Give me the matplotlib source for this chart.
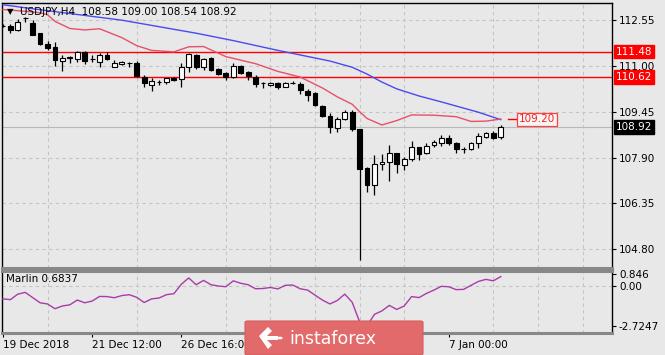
import matplotlib
matplotlib.use('Agg')
import matplotlib.pyplot as plt
import numpy as np
from matplotlib.patches import FancyBboxPatch, Polygon, Circle
from matplotlib.transforms import blended_transform_factory

title_text = "USDJPY,H4  108.58 109.00 108.54 108.92"

opens = [112.33, 112.35, 112.21, 112.60, 112.45, 112.10, 111.73, 111.64, 111.16, 111.26,
         111.23, 111.47, 111.23, 111.14, 111.37, 110.96, 111.06, 111.09, 111.10, 110.62,
         110.35, 110.45, 110.46, 110.59, 110.55, 110.96, 111.37, 110.96, 111.27, 110.89,
         110.76, 110.62, 110.99, 110.79, 110.62, 110.42, 110.35, 110.42, 110.29, 110.41,
         110.39, 110.15, 110.08, 109.64, 109.30, 108.90, 109.20, 109.44, 108.86, 107.55,
         106.97, 107.68, 107.75, 108.05, 107.65, 107.85, 108.26, 108.05, 108.33, 108.39,
         108.56, 108.39, 108.18, 108.19, 108.39, 108.59, 108.73, 108.58]
highs = [112.40, 112.41, 112.58, 112.65, 112.55, 112.12, 111.84, 111.81, 111.37, 111.33,
         111.50, 111.50, 111.36, 111.43, 111.47, 111.20, 111.15, 111.13, 111.16, 110.69,
         110.59, 110.52, 110.60, 110.62, 111.10, 111.43, 111.40, 111.27, 111.30, 110.92,
         110.79, 111.10, 111.02, 110.82, 110.69, 110.46, 110.45, 110.46, 110.44, 110.47,
         110.46, 110.22, 110.10, 109.66, 109.40, 109.27, 109.51, 109.51, 108.88, 107.58,
         107.99, 108.02, 108.32, 108.06, 107.92, 108.46, 108.27, 108.39, 108.50, 108.66,
         108.66, 108.42, 108.26, 108.43, 108.73, 108.78, 108.80, 109.00]
lows = [112.30, 112.11, 112.18, 112.48, 112.03, 111.70, 111.53, 111.00, 110.83, 111.08,
        111.12, 111.06, 111.13, 110.96, 111.20, 110.96, 111.04, 110.96, 110.62, 110.28,
        110.15, 110.35, 110.39, 110.50, 110.28, 110.79, 110.89, 110.86, 110.84, 110.69,
        110.52, 110.59, 110.72, 110.52, 110.28, 110.25, 110.33, 110.22, 110.27, 110.39,
        110.05, 109.81, 109.65, 109.28, 108.73, 108.76, 109.17, 108.80, 104.43, 106.74,
        106.63, 107.48, 107.11, 107.37, 107.48, 107.78, 107.82, 108.02, 108.25, 108.29,
        108.32, 108.05, 108.05, 108.16, 108.22, 108.55, 108.53, 108.54]
closes = [112.36, 112.21, 112.48, 112.62, 112.04, 111.73, 111.60, 111.20, 111.26, 111.30,
          111.47, 111.16, 111.24, 111.37, 111.23, 111.10, 111.13, 111.10, 110.66, 110.42,
          110.49, 110.46, 110.59, 110.52, 110.96, 111.40, 110.96, 111.23, 110.86, 110.72,
          110.62, 110.99, 110.76, 110.65, 110.39, 110.43, 110.42, 110.29, 110.42, 110.43,
          110.18, 110.01, 109.67, 109.30, 108.93, 109.20, 109.44, 108.86, 107.51, 106.97,
          107.68, 107.75, 108.05, 107.68, 107.85, 108.26, 108.02, 108.29, 108.43, 108.56,
          108.39, 108.19, 108.20, 108.39, 108.63, 108.73, 108.56, 108.92]

red_ma_idx = [0, 3, 5, 6, 7, 9, 11, 13, 16, 18, 20, 23, 25, 27, 30, 34, 37, 40, 43, 45, 47,
              48, 49, 51, 53, 55, 58, 61, 63, 65, 67]
red_ma_val = [112.90, 112.84, 112.79, 112.72, 112.50, 112.26, 112.21, 112.25, 111.95, 111.68,
              111.52, 111.47, 111.64, 111.65, 111.31, 111.07, 110.81, 110.62, 110.25, 109.95,
              109.70, 109.45, 109.22, 109.00, 109.15, 109.34, 109.33, 109.28, 109.12, 109.13,
              109.20]
blue_ma_idx = [0, 6, 16, 26, 31, 37, 44, 47, 49, 51, 53, 56, 59, 64, 67]
blue_ma_val = [113.06, 112.86, 112.54, 112.10, 111.85, 111.52, 111.16, 110.95, 110.72, 110.45,
               110.22, 109.98, 109.78, 109.43, 109.18]

marlin = [-0.86, -0.91, -0.53, -0.41, -0.77, -1.13, -1.21, -1.54, -1.35, -1.27,
          -0.94, -1.13, -1.01, -0.69, -0.70, -0.78, -0.63, -0.57, -0.75, -1.11,
          -0.86, -0.80, -0.57, -0.50, 0.15, 0.59, 0.12, 0.42, 0.12, 0.03,
          -0.02, 0.39, 0.22, 0.12, -0.16, -0.14, -0.07, -0.17, 0.08, 0.10,
          -0.16, -0.25, -0.60, -0.94, -1.21, -0.97, -0.53, -1.09, -2.45, -2.7247,
          -1.93, -1.69, -1.31, -1.59, -1.35, -0.70, -0.77, -0.48, -0.25, 0.01,
          -0.02, -0.22, -0.20, 0.08, 0.35, 0.49, 0.39, 0.6837]
marlin_label = "Marlin 0.6837"

price_ticks = [112.55, 111.00, 109.45, 107.90, 106.35, 104.80]
level_lines = [111.48, 110.62]
bid_price = 108.92
ma_label_value = 109.20
marlin_ticks = [0.846, 0.00, -2.7247]
marlin_tick_labels = ["0.846", "0.00", "-2.7247"]
date_tick_idx = [0, 12, 24, 60]
date_tick_labels = ["19 Dec 2018", "21 Dec 12:00", "26 Dec 16:00", "7 Jan 00:00"]
grid_step = 6

BG = '#e8e8e8'
GRID = '#c4c4c4'
W, H = 665, 355

fig = plt.figure(figsize=(W / 100, H / 100), dpi=100, facecolor=BG)
ax = fig.add_axes([2 / W, (H - 268) / H, 610 / W, 265 / H], facecolor=BG)
axm = fig.add_axes([2 / W, (H - 333) / H, 610 / W, 62 / H], facecolor=BG)

xmin, xmax = -0.13, 81.97
for a in (ax, axm):
    a.set_xlim(xmin, xmax)
    a.set_xticks(np.arange(0, 82, grid_step), minor=True)
    a.grid(which='minor', axis='x', color=GRID, ls=(0, (3, 3)), lw=0.8)
    a.tick_params(which='minor', length=0)
    a.set_axisbelow(True)

# main panel
ax.set_ylim(104.17, 113.12)
ax.yaxis.tick_right()
ax.set_yticks(price_ticks)
ax.set_yticklabels([f"{v:.2f}" for v in price_ticks])
ax.tick_params(axis='y', which='major', labelsize=7.5, length=3, pad=2, colors='black')
ax.grid(which='major', axis='y', color=GRID, ls=(0, (3, 3)), lw=0.8)
ax.set_xticks(date_tick_idx)
ax.tick_params(axis='x', which='major', length=0, labelbottom=False)

ax.axhline(bid_price, color='#b8b8b8', lw=0.8, zorder=1)
for lv in level_lines:
    ax.axhline(lv, color='#ff0000', lw=1.0, zorder=2)

ax.plot(blue_ma_idx, blue_ma_val, color='#4a4af0', lw=1.0, zorder=3)
ax.plot(red_ma_idx, red_ma_val, color='#e8506a', lw=1.0, zorder=3)

idx = np.arange(len(opens))
o = np.array(opens); c = np.array(closes)
ax.vlines(idx, lows, highs, color='black', lw=0.9, zorder=4)
bottoms = np.minimum(o, c)
heights = np.maximum(np.abs(c - o), 0.015)
face = ['white' if cc >= oo else 'black' for oo, cc in zip(o, c)]
ax.bar(idx, heights, bottom=bottoms, width=0.64, color=face, edgecolor='black', linewidth=0.8, zorder=5)

# price boxes on the right
tr = blended_transform_factory(ax.transAxes, ax.transData)
for lv in level_lines:
    ax.text(1.006, lv, f"{lv:.2f}", transform=tr, ha='left', va='center', fontsize=7.5,
            color='white', bbox=dict(boxstyle='square,pad=0.18', fc='#ff0000', ec='#ff0000'),
            clip_on=False, zorder=6)
ax.text(1.006, bid_price, f"{bid_price:.2f}", transform=tr, ha='left', va='center', fontsize=7.5,
        color='white', bbox=dict(boxstyle='square,pad=0.18', fc='black', ec='black'),
        clip_on=False, zorder=6)

# MA value label
ax.plot([68.0, 69.2], [ma_label_value, ma_label_value], color='#ff0000', lw=1.0, zorder=4)
ax.text(69.45, ma_label_value, f"{ma_label_value:.2f}", ha='left', va='center', fontsize=7.5,
        color='#ff2020', bbox=dict(boxstyle='square,pad=0.15', fc='#f4f4f4', ec='#ff4040', lw=0.9),
        zorder=6)

for s in ('left', 'right', 'top'):
    ax.spines[s].set_color('black'); ax.spines[s].set_linewidth(1.0)
ax.spines['bottom'].set_color('#888888'); ax.spines['bottom'].set_linewidth(2.2)

# indicator panel
axm.set_ylim(-3.22, 1.07)
axm.axhline(0.0, color=GRID, ls=(0, (3, 3)), lw=0.8, zorder=1)
axm.plot(idx, marlin, color='#a83ca8', lw=1.0, zorder=3)
axm.yaxis.tick_right()
axm.set_yticks(marlin_ticks)
axm.set_yticklabels(marlin_tick_labels)
axm.tick_params(axis='y', labelsize=7.5, length=3, pad=2, colors='black')
ylabs = axm.get_yticklabels()
ylabs[0].set_va('center_baseline')
axm.set_xticks(date_tick_idx)
axm.set_xticklabels(date_tick_labels, ha='left')
axm.tick_params(axis='x', which='major', labelsize=7.5, length=3, pad=2, direction='out')
for s in ('left', 'right'):
    axm.spines[s].set_color('black'); axm.spines[s].set_linewidth(1.0)
for s in ('top', 'bottom'):
    axm.spines[s].set_color('#888888'); axm.spines[s].set_linewidth(2.2)

# titles
fig.text(7 / W, 1 - 12 / H, '\u25bc', fontsize=6, va='center', ha='left', color='black')
fig.text(20 / W, 1 - 12 / H, title_text, fontsize=7.5, va='center', ha='left', color='black')
fig.text(6 / W, 1 - 279 / H, marlin_label, fontsize=7.5, va='center', ha='left', color='black')

# watermark logo
logo = FancyBboxPatch((245 / W, 0 / H), 178 / W, 34 / H,
                      boxstyle='round,pad=0,rounding_size=0.004', transform=fig.transFigure,
                      fc='#e26a6a', ec='#d45c5c', lw=0.8, zorder=10)
fig.add_artist(logo)
cx, cy = 270 / W, 1 - 338 / H
sx, sy = 1 / W, 1 / H
icon_pts = [(-11, 2), (-2, 11), (2, 7), (-3, 2), (8, 2), (8, -2), (-3, -2), (2, -7), (-2, -11)]
fig.add_artist(Polygon([(cx + px * sx, cy + py * sy) for px, py in icon_pts], closed=True,
                       transform=fig.transFigure, fc='white', ec='none', zorder=11))
fig.add_artist(Circle((cx + 10 * sx, cy), 2.6 * sx, transform=fig.transFigure,
                      fc='white', ec='none', zorder=11))
fig.text(289 / W, 1 - 339 / H, 'instaforex', fontsize=12.5, color='white', va='center',
         ha='left', zorder=12)

fig.savefig('out.png', dpi=100, facecolor=BG)
